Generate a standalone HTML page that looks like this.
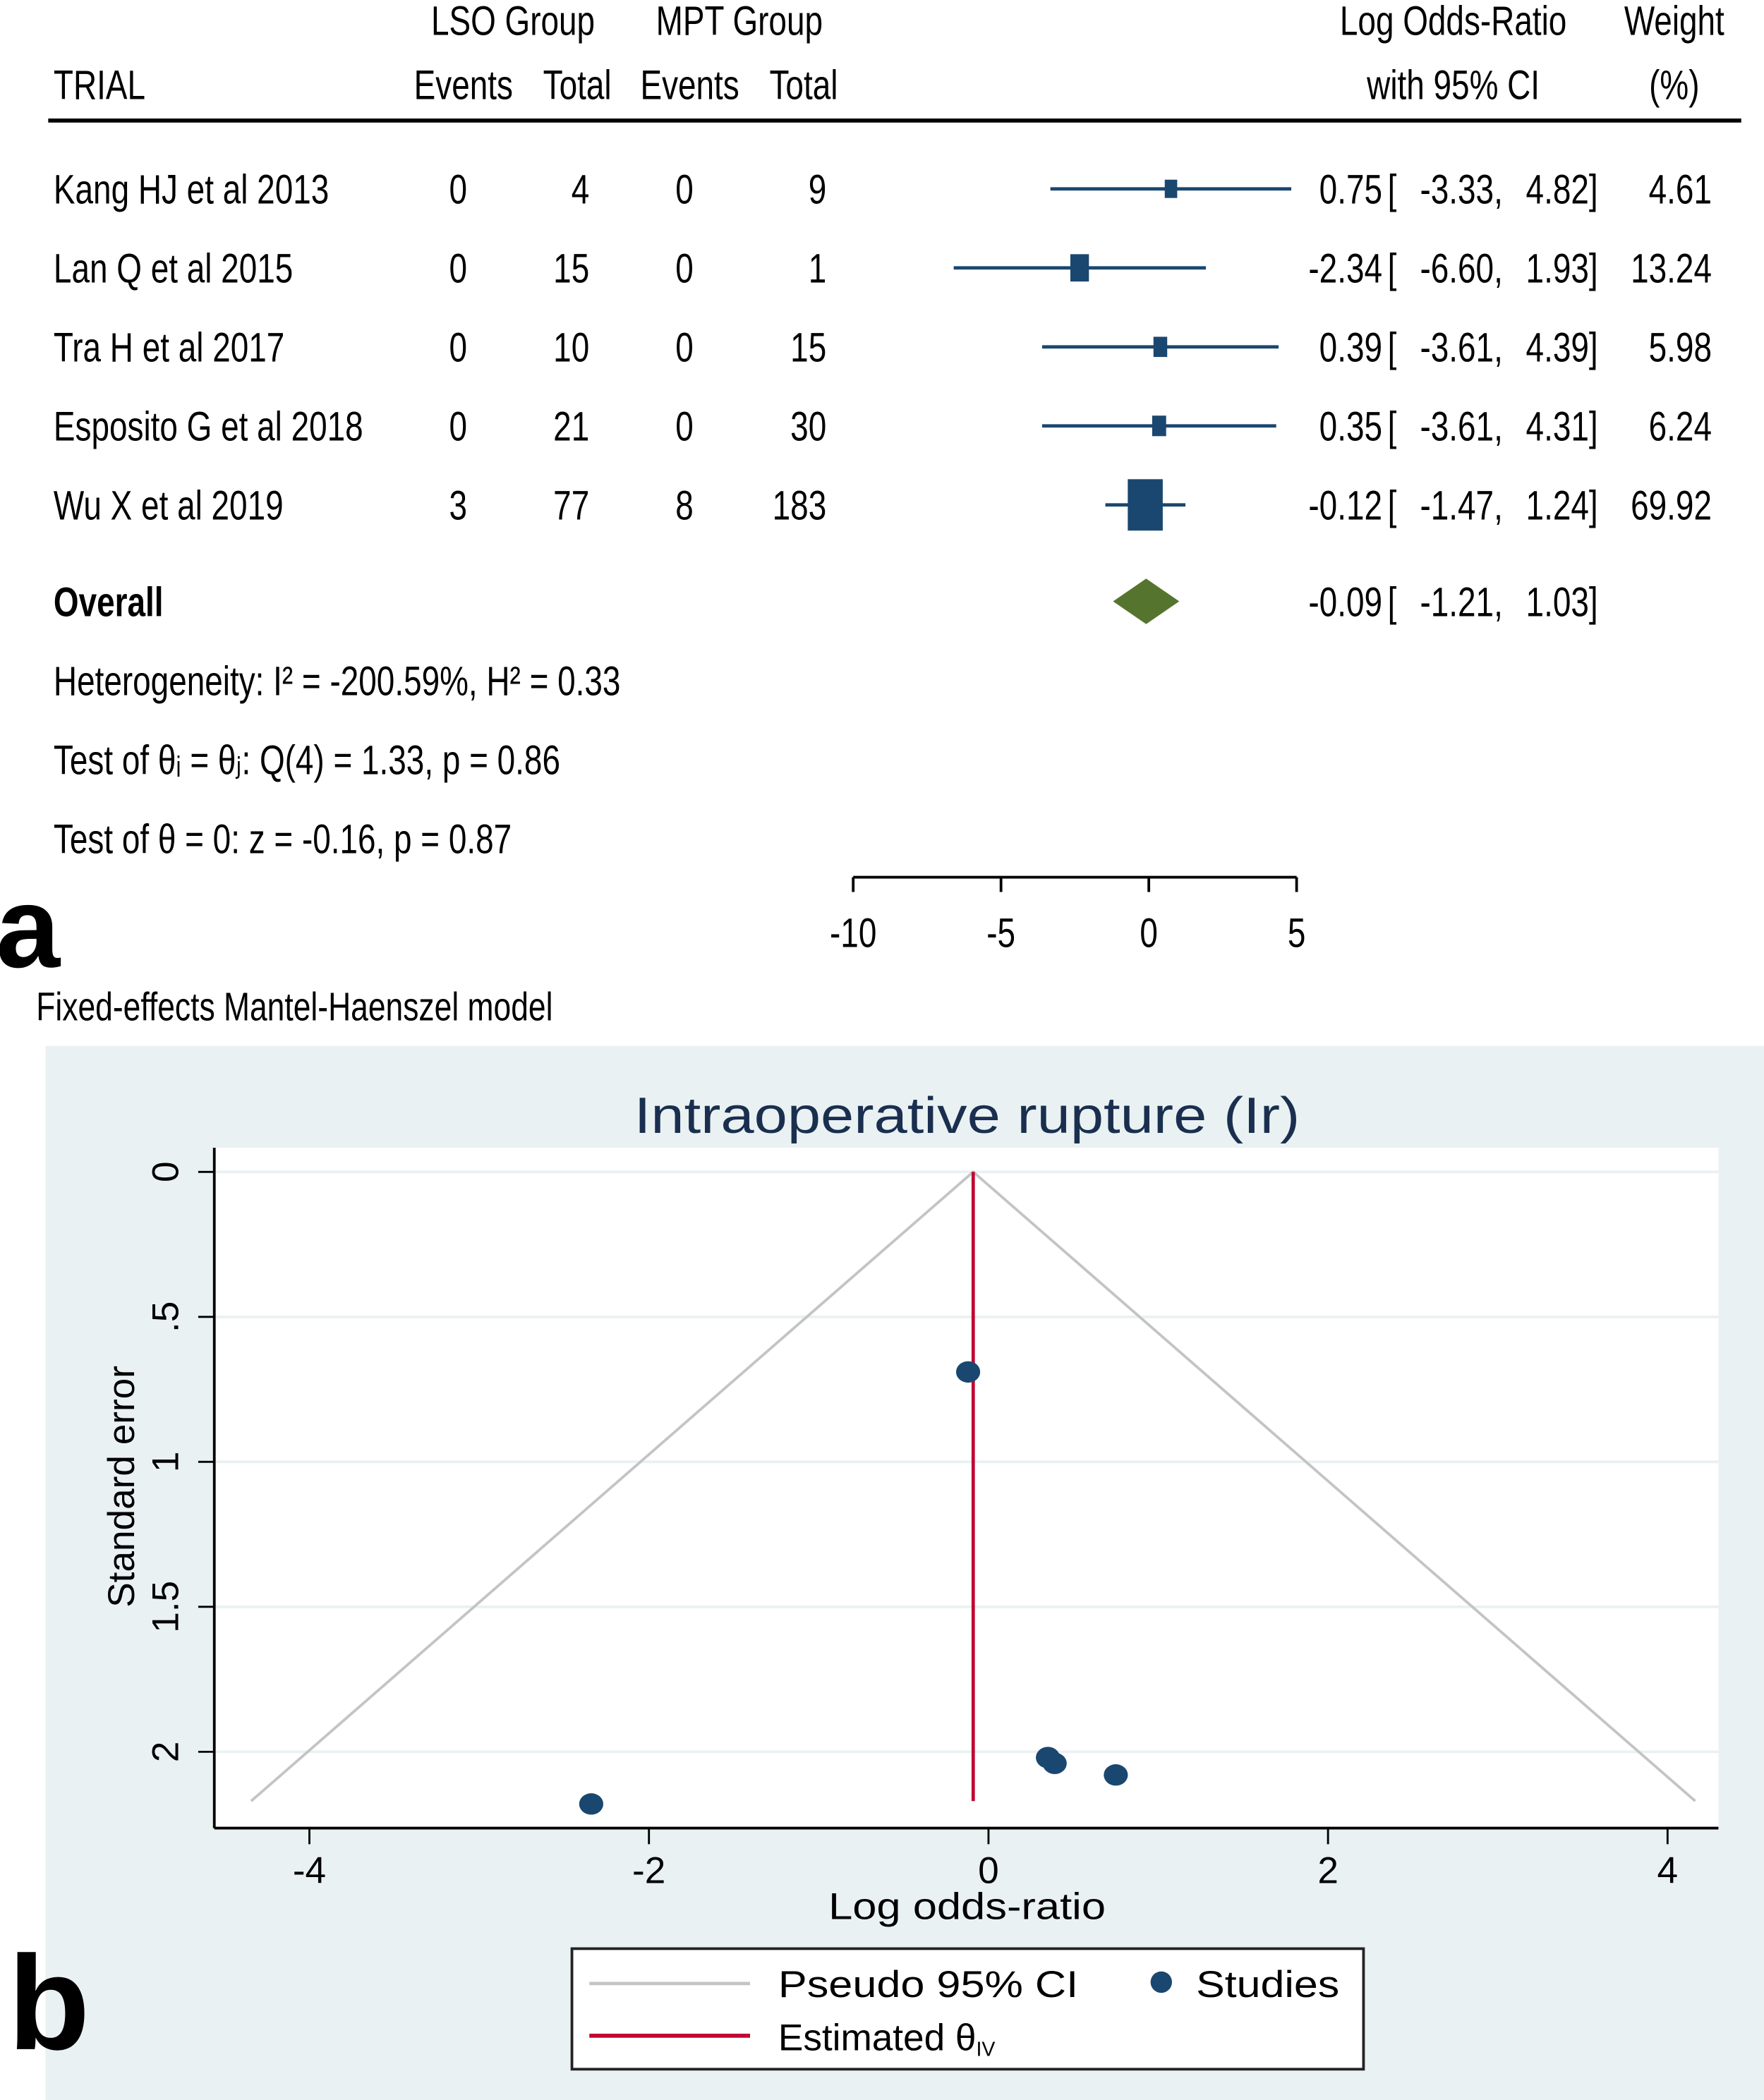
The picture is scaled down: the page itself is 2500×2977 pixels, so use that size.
<!DOCTYPE html>
<html><head><meta charset="utf-8"><style>
html,body{margin:0;padding:0;background:#fff}
svg{display:block}
text{font-family:"Liberation Sans",sans-serif}
</style></head><body>
<svg id="root" width="2500" height="2977" viewBox="0 0 1317 1568" preserveAspectRatio="none" xmlns="http://www.w3.org/2000/svg">
<rect x="0" y="0" width="1317" height="1568" fill="#fff"/>
<g id="forest"></g>
<line x1="36" y1="90" x2="1300" y2="90" stroke="#000" stroke-width="3"/>
<text x="-3" y="722" font-size="86" font-weight="bold">a</text>
<rect x="34" y="781" width="1283" height="787" fill="#eaf1f3"/>
<rect x="160" y="857" width="1123" height="508" fill="#fff"/>
<text x="722" y="846" font-size="38" text-anchor="middle" fill="#1a2f4f" textLength="497" lengthAdjust="spacingAndGlyphs">Intraoperative rupture (Ir)</text>
<g id="funnel"></g>
<text x="722" y="1433" font-size="28" text-anchor="middle" textLength="207" lengthAdjust="spacingAndGlyphs">Log odds-ratio</text>
<text transform="translate(100,1110) rotate(-90)" font-size="28" text-anchor="middle">Standard error</text>
<text x="6" y="1530" font-size="100" font-weight="bold">b</text>
<g>
<rect x="427" y="1455" width="591" height="90" fill="#fff" stroke="#222" stroke-width="2"/>
<line x1="440" y1="1481" x2="560" y2="1481" stroke="#c4c4c4" stroke-width="2.5"/>
<text x="581" y="1491" font-size="28" textLength="224" lengthAdjust="spacingAndGlyphs">Pseudo 95% CI</text>
<circle cx="867" cy="1480" r="8" fill="#1a476f"/>
<text x="893" y="1491" font-size="28" textLength="107" lengthAdjust="spacingAndGlyphs">Studies</text>
<line x1="440" y1="1520" x2="560" y2="1520" stroke="#c10534" stroke-width="3"/>
<text x="581" y="1531" font-size="28">Estimated θ<tspan font-size="15" dy="4">IV</tspan></text>
</g>
</svg>
<script>
const NS="http://www.w3.org/2000/svg";
// ---- forest data ----
const trials=["Kang HJ et al 2013","Lan Q et al 2015","Tra H et al 2017","Esposito G et al 2018","Wu X et al 2019"];
const lsoEvents=[0,0,0,0,3];
const lsoTotal=[4,15,10,21,77];
const mptEvents=[0,0,0,0,8];
const mptTotal=[9,1,15,30,183];
const logOR=[0.75,-2.34,0.39,0.35,-0.12];
const ciLow=[-3.33,-6.60,-3.61,-3.61,-1.47];
const ciHigh=[4.82,1.93,4.39,4.31,1.24];
const weights=[4.61,13.24,5.98,6.24,69.92];
const overall=[-0.09,-1.21,1.03];
const forestTicks=[-10,-5,0,5];
// ---- funnel data ----
const seVals=[2.08,2.18,2.04,2.02,0.69];
const thetaIV=-0.09;
const funnelSeMax=2.17;
const xTicks=[-4,-2,0,2,4];
const yTicks=[0,0.5,1,1.5,2];
const yTickLabels=["0",".5","1","1.5","2"];

const forest=document.getElementById('forest');
const funnel=document.getElementById('funnel');
function mk(tag,attrs,parent){const e=document.createElementNS(NS,tag);for(const k in attrs)e.setAttribute(k,attrs[k]);parent.appendChild(e);return e;}
function txt(parent,x,y,s,anchor,size,bold){
  const g=mk('g',{transform:`translate(${x},${y}) scale(0.78,1)`},parent);
  const t=mk('text',{x:0,y:0,'font-size':size||31,'text-anchor':anchor||'start'},g);
  if(bold)t.setAttribute('font-weight','bold');
  t.textContent=s;return t;
}
const fx=v=>857.7+v*22.07;
let h;
h=txt(forest,383,26,"LSO Group","middle");


h=txt(forest,552,26,"MPT Group","middle");


h=txt(forest,1085,26,"Log Odds-Ratio","middle");


h=txt(forest,1250,26,"Weight","middle");


h=txt(forest,40,74,"TRIAL","start");


h=txt(forest,346,74,"Events","middle");


h=txt(forest,431,74,"Total","middle");


h=txt(forest,515,74,"Events","middle");


h=txt(forest,600,74,"Total","middle");


h=txt(forest,1085,74,"with 95% CI","middle");


h=txt(forest,1250,74,"(%)","middle");



const rowY=[141,200,259,318,377];
trials.forEach((name,i)=>{
  const y=rowY[i], b=y+11;
  let t=txt(forest,40,b,name);
  
  
  t=txt(forest,342,b,String(lsoEvents[i]),"middle");
  
  
  t=txt(forest,440,b,String(lsoTotal[i]),"end");
  
  
  t=txt(forest,511,b,String(mptEvents[i]),"middle");
  
  
  t=txt(forest,617,b,String(mptTotal[i]),"end");
  
  
  t=txt(forest,1032,b,logOR[i].toFixed(2),"end");
  
  
  t=txt(forest,1036,b,"[");
  
  
  t=txt(forest,1122,b,ciLow[i].toFixed(2)+",","end");
  
  
  t=txt(forest,1193,b,ciHigh[i].toFixed(2)+"]","end");
  
  
  t=txt(forest,1278,b,weights[i].toFixed(2),"end");
  
  
  const l=mk('line',{x1:fx(ciLow[i]),x2:fx(ciHigh[i]),y1:y,y2:y,stroke:'#1a476f','stroke-width':2.5},forest);
  
  
  const w=5.2*Math.pow(weights[i],0.38), hh=w*1.47;
  const r=mk('rect',{x:fx(logOR[i])-w/2,y:y-hh/2,width:w,height:hh,fill:'#1a476f'},forest);
  
  
});
let o=txt(forest,40,460,"Overall","start",31,true);


o=txt(forest,1032,460,overall[0].toFixed(2),"end");


o=txt(forest,1036,460,"[");


o=txt(forest,1122,460,overall[1].toFixed(2)+",","end");


o=txt(forest,1193,460,overall[2].toFixed(2)+"]","end");


const dm=mk('polygon',{points:`${fx(overall[1])},449 ${fx(overall[0])},432 ${fx(overall[2])},449 ${fx(overall[0])},466`,fill:'#55752f'},forest);


o=txt(forest,40,519,"Heterogeneity: I² = -200.59%, H² = 0.33");


o=txt(forest,40,578,"Test of θᵢ = θⱼ: Q(4) = 1.33, p = 0.86");


o=txt(forest,40,637,"Test of θ = 0: z = -0.16, p = 0.87");


o=txt(forest,27,762,"Fixed-effects Mantel-Haenszel model","start",30);


const ax=mk('line',{x1:fx(forestTicks[0]),x2:fx(forestTicks[forestTicks.length-1]),y1:655,y2:655,stroke:'#000','stroke-width':2},forest);


forestTicks.forEach(v=>{
  const tk=mk('line',{x1:fx(v),x2:fx(v),y1:655,y2:666,stroke:'#000','stroke-width':2},forest);
  
  
  const tl=txt(forest,fx(v),707,String(v),"middle");
  
  
});

const X=v=>738+v*126.75;
const Y=v=>875+v*216.5;
yTicks.forEach((v,i)=>{
  const g=mk('line',{x1:160,x2:1283,y1:Y(v),y2:Y(v),stroke:'#eaf1f3','stroke-width':2},funnel);
  
  
  const tk=mk('line',{x1:148,x2:160,y1:Y(v),y2:Y(v),stroke:'#000','stroke-width':1.5},funnel);
  
  
  const tl=mk('text',{transform:`translate(133,${Y(v)}) rotate(-90)`,'font-size':28,'text-anchor':'middle'},funnel);
  tl.textContent=yTickLabels[i];
  
  
});
xTicks.forEach(v=>{
  const tk=mk('line',{x1:X(v),x2:X(v),y1:1365,y2:1377,stroke:'#000','stroke-width':1.5},funnel);
  
  
  const tl=mk('text',{x:X(v),y:1406,'font-size':28,'text-anchor':'middle'},funnel);
  tl.textContent=String(v);
  
  
});
const yl=mk('line',{x1:160,x2:160,y1:857,y2:1365,stroke:'#000','stroke-width':2},funnel);


const xl=mk('line',{x1:160,x2:1283,y1:1365,y2:1365,stroke:'#000','stroke-width':2},funnel);


const ci=mk('polyline',{points:`${X(thetaIV-1.96*funnelSeMax)},${Y(funnelSeMax)} ${X(thetaIV)},${Y(0)} ${X(thetaIV+1.96*funnelSeMax)},${Y(funnelSeMax)}`,fill:'none',stroke:'#c4c4c4','stroke-width':2},funnel);


const est=mk('line',{x1:X(thetaIV),x2:X(thetaIV),y1:Y(0),y2:Y(funnelSeMax),stroke:'#c10534','stroke-width':2.5},funnel);


logOR.forEach((v,i)=>{
  const c=mk('ellipse',{cx:X(v),cy:Y(seVals[i]),rx:9,ry:8,fill:'#1a476f'},funnel);
  
  
});
</script>
</body></html>
